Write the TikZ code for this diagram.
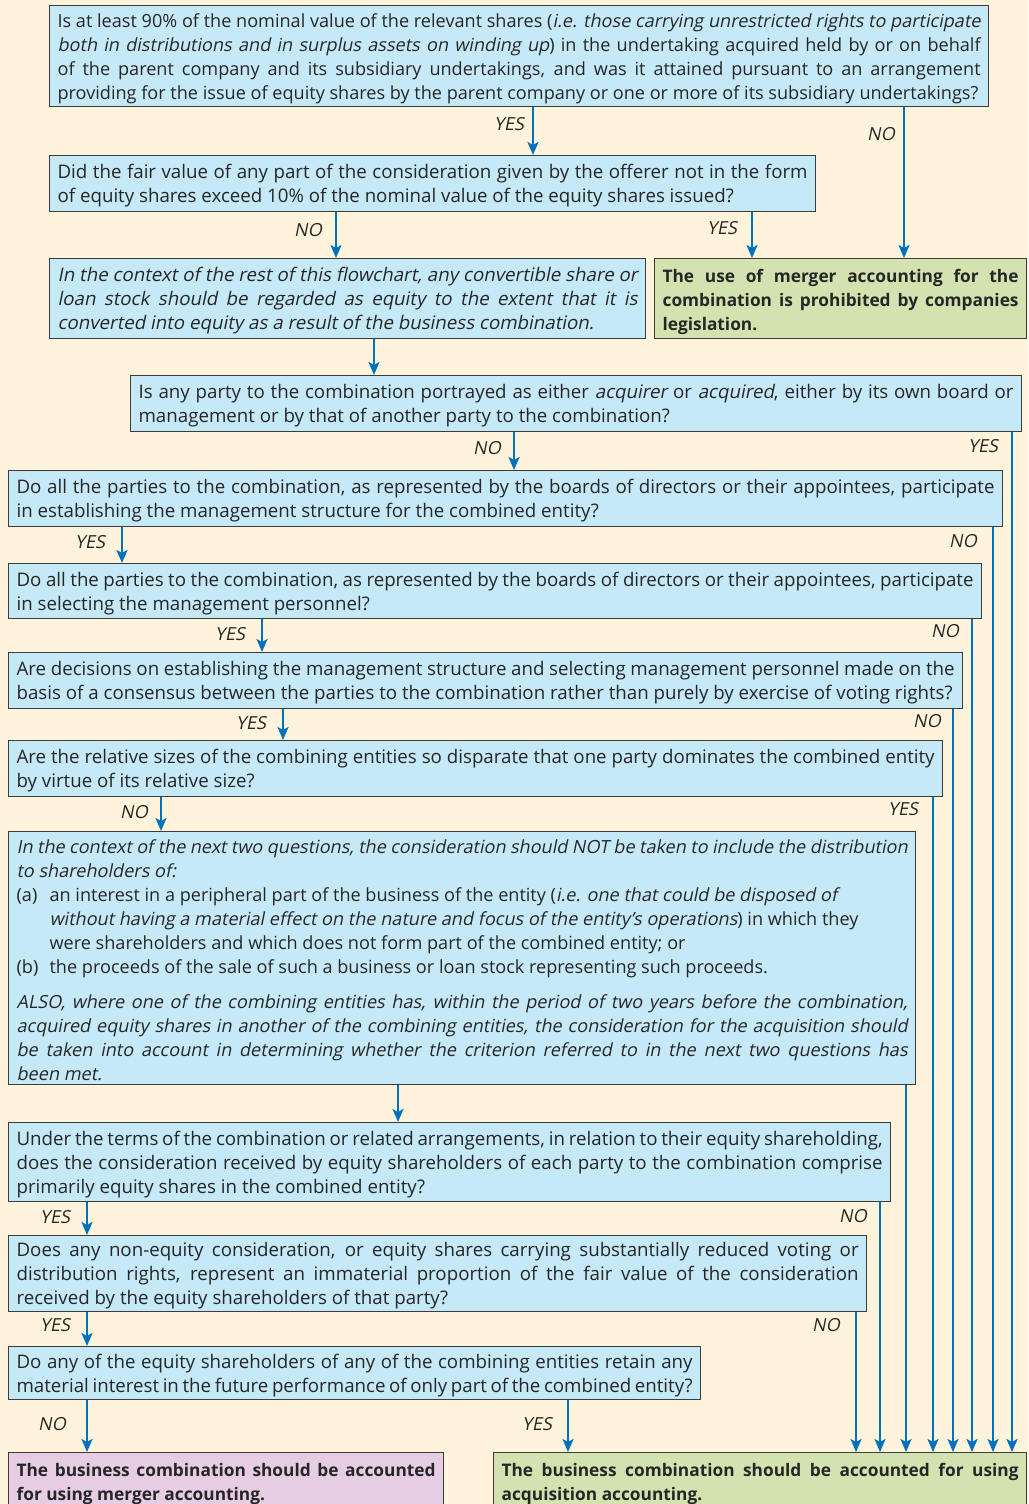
\documentclass[tikz,border=0pt]{standalone}
\usepackage{fontspec}
\setmainfont{Open Sans}[ItalicFont={Open Sans}, ItalicFeatures={FakeSlant=0.2},
  BoldItalicFont={Open Sans Bold}, BoldItalicFeatures={FakeSlant=0.2}]
\usepackage{tikz}
\usetikzlibrary{arrows.meta}

\definecolor{bgcream}{RGB}{255,243,220}
\definecolor{qblue}{RGB}{198,233,248}
\definecolor{okgreen}{RGB}{210,227,176}
\definecolor{mauve}{RGB}{230,205,227}
\definecolor{flowblue}{RGB}{0,114,188}
\definecolor{edgegray}{RGB}{60,60,60}

\tikzset{
  qbox/.style 2 args={draw=edgegray, line width=1.2pt, fill=qblue, anchor=north west,
    inner xsep=8pt, inner ysep=0pt, align=justify, text=black!85,
    font=\fontsize{18.7}{24}\selectfont, text width=#1, minimum height=#2,
    execute at begin node={\rule{0pt}{19pt}}},
  endbox/.style={font=\fontsize{17.3}{24}\selectfont\bfseries},
  flow/.style={flowblue, line width=2.4pt, -{Stealth[length=13pt,width=11pt,inset=3pt]}},
  lbl/.style={font=\fontsize{18}{20}\selectfont\itshape, text=black!85, inner sep=0pt},
}

\begin{document}
\begin{tikzpicture}[x=1pt,y=-1pt]

\useasboundingbox (0,0) rectangle (1028,1504);
\clip (0,0) rectangle (1028,1504);
\fill [bgcream] (0,0) rectangle (1028,1504);

\node [qbox={923pt}{101pt}, font=\fontsize{18.1}{24}\selectfont] (holding) at (49,5) {Is at least 90\% of the nominal value of the relevant shares (\textit{i.e. those carrying unrestricted rights to participate}\linebreak \textit{both in distributions and in surplus assets on winding up}) in the undertaking acquired held by or on behalf\linebreak of the parent company and its subsidiary undertakings, and was it attained pursuant to an arrangement\linebreak providing for the issue of equity shares by the parent company or one or more of its subsidiary undertakings?};

\node [qbox={750pt}{56pt}] (cash) at (49,155) {Did the fair value of any part of the consideration given by the offerer not in the form\linebreak of equity shares exceed 10\% of the nominal value of the equity shares issued?};

\node [qbox={580pt}{80pt}] (convert) at (49,258) {\itshape In the context of the rest of this flowchart, any convertible share or\linebreak loan stock should be regarded as equity to the extent that it is\linebreak converted into equity as a result of the business combination.};

\node [qbox={356pt}{80pt}, fill=okgreen, endbox] (illegal) at (654,258) {The use of merger accounting for the\linebreak combination is prohibited by companies\linebreak legislation.};

\node [qbox={875pt}{56pt}] (portray) at (130,375) {Is any party to the combination portrayed as either \textit{acquirer} or \textit{acquired}, either by its own board or\linebreak management or by that of another party to the combination?};

\node [qbox={978pt}{56pt}] (structure) at (8,470) {Do all the parties to the combination, as represented by the boards of directors or their appointees, participate\linebreak in establishing the management structure for the combined entity?};

\node [qbox={957pt}{55pt}] (personnel) at (8,563) {Do all the parties to the combination, as represented by the boards of directors or their appointees, participate\linebreak in selecting the management personnel?};

\node [qbox={938pt}{56pt}] (consensus) at (8,652) {Are decisions on establishing the management structure and selecting management personnel made on the\linebreak basis of a consensus between the parties to the combination rather than purely by exercise of voting rights?};

\node [qbox={918pt}{56pt}] (sizes) at (8,740) {Are the relative sizes of the combining entities so disparate that one party dominates the combined entity\linebreak by virtue of its relative size?};

\node [qbox={891pt}{253pt}, font=\fontsize{18.1}{24}\selectfont] (context) at (8,831) {\textit{In the context of the next two questions, the consideration should NOT be taken to include the distribution\linebreak to shareholders of:}\par
\noindent\hangindent=33pt\hangafter=1\makebox[33pt][l]{(a)}an interest in a peripheral part of the business of the entity (\textit{i.e. one that could be disposed of}\newline \textit{without having a material effect on the nature and focus of the entity's operations}) in which they\newline were shareholders and which does not form part of the combined entity; or\par
\noindent\hangindent=33pt\hangafter=1\makebox[33pt][l]{(b)}the proceeds of the sale of such a business or loan stock representing such proceeds.\par
\vspace{11pt}
\textit{ALSO, where one of the combining entities has, within the period of two years before the combination,\linebreak acquired equity shares in another of the combining entities, the consideration for the acquisition should\linebreak be taken into account in determining whether the criterion referred to in the next two questions has\linebreak been met.}};

\node [qbox={866pt}{79pt}] (equity) at (8,1122) {Under the terms of the combination or related arrangements, in relation to their equity shareholding,\linebreak does the consideration received by equity shareholders of each party to the combination comprise\linebreak primarily equity shares in the combined entity?};

\node [qbox={842pt}{76pt}] (nonequity) at (8,1235) {Does any non-equity consideration, or equity shares carrying substantially reduced voting or\linebreak distribution rights, represent an immaterial proportion of the fair value of the consideration\linebreak received by the equity shareholders of that party?};

\node [qbox={676pt}{53pt}] (interest) at (8,1346) {Do any of the equity shareholders of any of the combining entities retain any\linebreak material interest in the future performance of only part of the combined entity?};

\node [qbox={419pt}{56pt}, fill=mauve, endbox] (merger) at (8,1452) {The business combination should be accounted\linebreak for using merger accounting.};

\node [qbox={517pt}{56pt}, fill=okgreen, endbox] (acquisition) at (493,1452) {The business combination should be accounted for using\linebreak acquisition accounting.};

\draw [flow] (533,0 |- holding.south) -- (533,0 |- cash.north);
\draw [flow] (904,0 |- holding.south) -- (904,0 |- illegal.north);
\draw [flow] (336,0 |- cash.south) -- (336,0 |- convert.north);
\draw [flow] (752,0 |- cash.south) -- (752,0 |- illegal.north);
\draw [flow] (374,0 |- convert.south) -- (374,0 |- portray.north);
\draw [flow] (514,0 |- portray.south) -- (514,0 |- structure.north);
\draw [flow] (1012,0 |- portray.south) -- (1012,0 |- acquisition.north);
\draw [flow] (122,0 |- structure.south) -- (122,0 |- personnel.north);
\draw [flow] (993,0 |- structure.south) -- (993,0 |- acquisition.north);
\draw [flow] (262,0 |- personnel.south) -- (262,0 |- consensus.north);
\draw [flow] (972,0 |- personnel.south) -- (972,0 |- acquisition.north);
\draw [flow] (283,0 |- consensus.south) -- (283,0 |- sizes.north);
\draw [flow] (953,0 |- consensus.south) -- (953,0 |- acquisition.north);
\draw [flow] (161,0 |- sizes.south) -- (161,0 |- context.north);
\draw [flow] (933,0 |- sizes.south) -- (933,0 |- acquisition.north);
\draw [flow] (398,0 |- context.south) -- (398,0 |- equity.north);
\draw [flow] (906,0 |- context.south) -- (906,0 |- acquisition.north);
\draw [flow] (87,0 |- equity.south) -- (87,0 |- nonequity.north);
\draw [flow] (880,0 |- equity.south) -- (880,0 |- acquisition.north);
\draw [flow] (87,0 |- nonequity.south) -- (87,0 |- interest.north);
\draw [flow] (856,0 |- nonequity.south) -- (856,0 |- acquisition.north);
\draw [flow] (87,0 |- interest.south) -- (87,0 |- merger.north);
\draw [flow] (568,0 |- interest.south) -- (568,0 |- acquisition.north);

\node [lbl] (y1) at (509,124) {YES};
\node [lbl] (n1) at (881,134) {NO};
\node [lbl] (n2) at (308,230) {NO};
\node [lbl] (y2) at (722,228) {YES};
\node [lbl] (n4) at (487,448) {NO};
\node [lbl] (y4) at (983,446) {YES};
\node [lbl] (y5) at (90,542) {YES};
\node [lbl] (n5) at (963,541) {NO};
\node [lbl] (y6) at (230,634) {YES};
\node [lbl] (n6) at (945,631) {NO};
\node [lbl] (y7) at (251,723) {YES};
\node [lbl] (n7) at (927,721) {NO};
\node [lbl] (n8) at (134,812) {NO};
\node [lbl] (y8) at (903,809) {YES};
\node [lbl] (y10) at (55,1217) {YES};
\node [lbl] (n10) at (853,1216) {NO};
\node [lbl] (y11) at (55,1325) {YES};
\node [lbl] (n11) at (826,1325) {NO};
\node [lbl] (n12) at (52,1424) {NO};
\node [lbl] (y12) at (537,1424) {YES};

\end{tikzpicture}
\end{document}
